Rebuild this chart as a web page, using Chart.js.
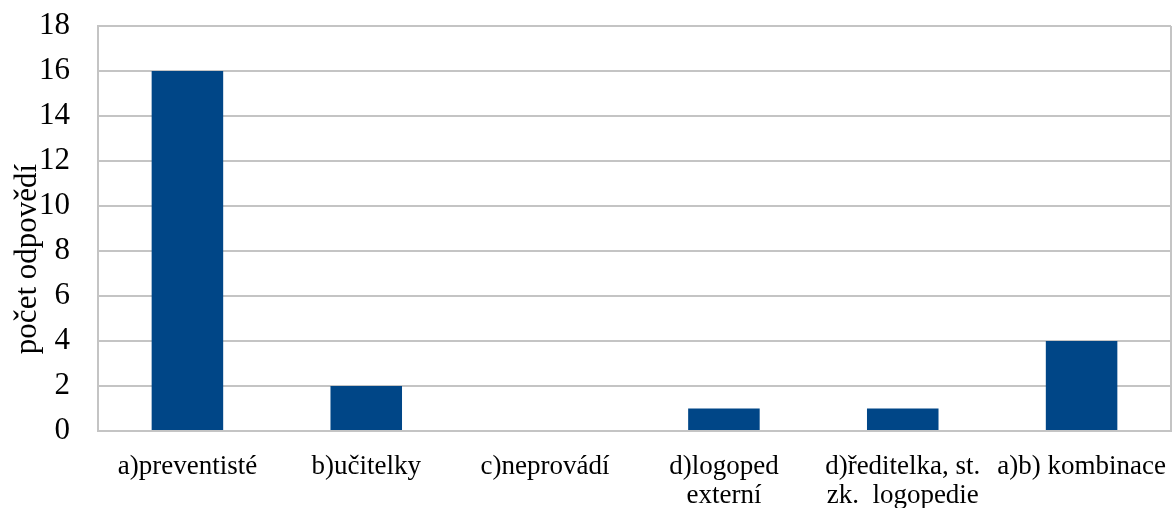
<!DOCTYPE html>
<html>
<head>
<meta charset="utf-8">
<script src="https://cdn.jsdelivr.net/npm/chart.js@4"></script>
<style>
  html, body { margin: 0; padding: 0; background: #fff; }
  #wrap { width: 1174px; height: 508px; }
</style>
</head>
<body>
<div id="wrap"><canvas id="odpovediChart" width="1174" height="508"></canvas></div>
<script>
// answer categories (multi-line ones split into arrays)
const categories = [
    'a)preventisté',
    'b)učitelky',
    'c)neprovádí',
    ['d)logoped', 'externí'],
    ['d)ředitelka, st.', 'zk.  logopedie'],
    'a)b) kombinace'
];
const counts = [16, 2, 0, 1, 1, 4];
const yTicks = [0, 2, 4, 6, 8, 10, 12, 14, 16, 18];
const yTitle = 'počet odpovědí';

const serif = '"Liberation Serif", "Times New Roman", serif';
const gridColor = '#c4c4c4';

const ctx = document.getElementById('odpovediChart');
new Chart(ctx, {
    type: 'bar',
    data: {
        labels: categories,
        datasets: [{
            label: yTitle,
            data: counts,
            backgroundColor: '#004687',
            borderWidth: 0,
            barPercentage: 0.4,
            categoryPercentage: 1
        }]
    },
    options: {
        responsive: false,
        animation: false,
        layout: {
            padding: { top: 26, right: 3, left: 0, bottom: 0 }
        },
        plugins: {
            legend: { display: false },
            tooltip: { enabled: false }
        },
        scales: {
            x: {
                grid: { display: false, drawTicks: false },
                border: { display: true, color: gridColor, width: 2 },
                ticks: {
                    color: '#000',
                    font: { family: serif, size: 27, lineHeight: 1.08 },
                    padding: 21,
                    maxRotation: 0,
                    autoSkip: false
                },
                afterFit: (axis) => {
                    axis.height = 77;
                    axis.paddingLeft = 0;
                    axis.paddingRight = 0;
                }
            },
            y: {
                min: 0,
                max: 18,
                afterBuildTicks: (axis) => { axis.ticks = yTicks.map(v => ({ value: v })); },
                grid: { color: gridColor, lineWidth: 2, drawTicks: false },
                border: { display: true, color: gridColor, width: 2 },
                ticks: {
                    color: '#000',
                    font: { family: serif, size: 31 },
                    padding: 28
                },
                afterFit: (axis) => {
                    axis.width = 98;
                    axis.paddingTop = 0;
                    axis.paddingBottom = 0;
                }
            }
        }
    },
    plugins: [{
        // right edge of the plot frame plus the rotated axis title
        id: 'frameAndTitle',
        afterDraw(chart) {
            const a = chart.chartArea;
            const c = chart.ctx;
            c.save();
            c.strokeStyle = gridColor;
            c.lineWidth = 2;
            c.beginPath();
            c.moveTo(a.right, a.top);
            c.lineTo(a.right, a.bottom);
            c.stroke();

            c.translate(28, 259);
            c.rotate(-Math.PI / 2);
            c.fillStyle = '#000';
            c.font = '31px ' + serif;
            c.textAlign = 'center';
            c.textBaseline = 'middle';
            c.fillText(yTitle, 0, 0);
            c.restore();
        }
    }]
});
</script>
</body>
</html>
